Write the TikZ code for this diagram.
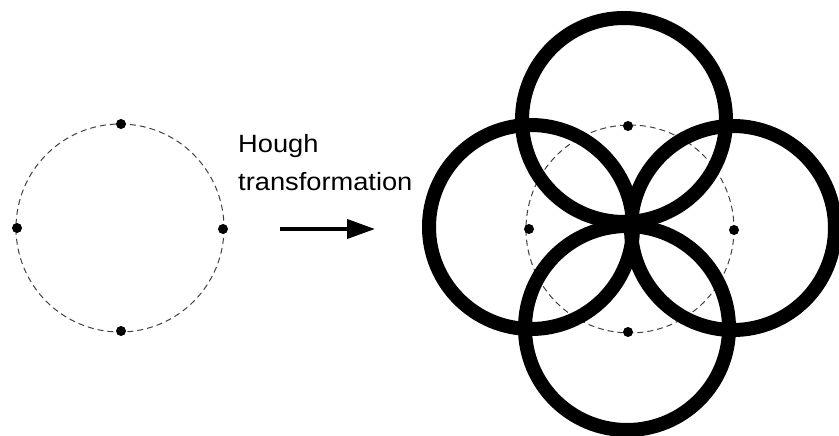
\documentclass[tikz,border=0pt]{standalone}
\usepackage{fontspec}
\setmainfont{Liberation Sans}
\usetikzlibrary{arrows.meta}
\begin{document}
\begin{tikzpicture}[x=1pt,y=-1pt,
  guide/.style={draw=black!75,line width=1pt,dash pattern=on 6pt off 4pt},
  pointdot/.style={circle,fill=black,inner sep=0pt,minimum size=10pt},
  vote/.style={draw=black,line width=14pt},
  label/.style={anchor=base west,inner sep=0pt,font=\fontsize{25}{25}\selectfont,xscale=1.09,transform shape}]
\useasboundingbox (0,0) rectangle (839,436);
\clip (0,0) rectangle (839,436);

% input image: four edge points on a dashed circle
\coordinate (lc) at (120,228);
\draw[guide] (lc) circle (104);
\node[pointdot] (lt) at (121,124) {};
\node[pointdot] (lb) at (121,331) {};
\node[pointdot] (ll) at (17,228) {};
\node[pointdot] (lr) at (223,229) {};

% caption and arrow
\node[label] (t1) at (238,152) {Hough};
\node[label] (t2) at (238,190) {transformation};
\coordinate (as) at (280,229);
\coordinate (ae) at (375,229);
\draw[line width=4pt,-{Triangle[length=28pt,width=19pt]}] (as) -- (ae);

% parameter space: same points with their voting circles
\coordinate (rc) at (630,229);
\draw[guide] (rc) circle (104);
\node[pointdot] (rt) at (628,126) {};
\node[pointdot] (rb) at (628,332) {};
\node[pointdot] (rl) at (529,229) {};
\node[pointdot] (rr) at (734,230) {};
\draw[vote] (624,120) circle (102);
\draw[vote] (531,227) circle (102);
\draw[vote] (733,228) circle (102);
\draw[vote] (627,328) circle (102);
\end{tikzpicture}
\end{document}
